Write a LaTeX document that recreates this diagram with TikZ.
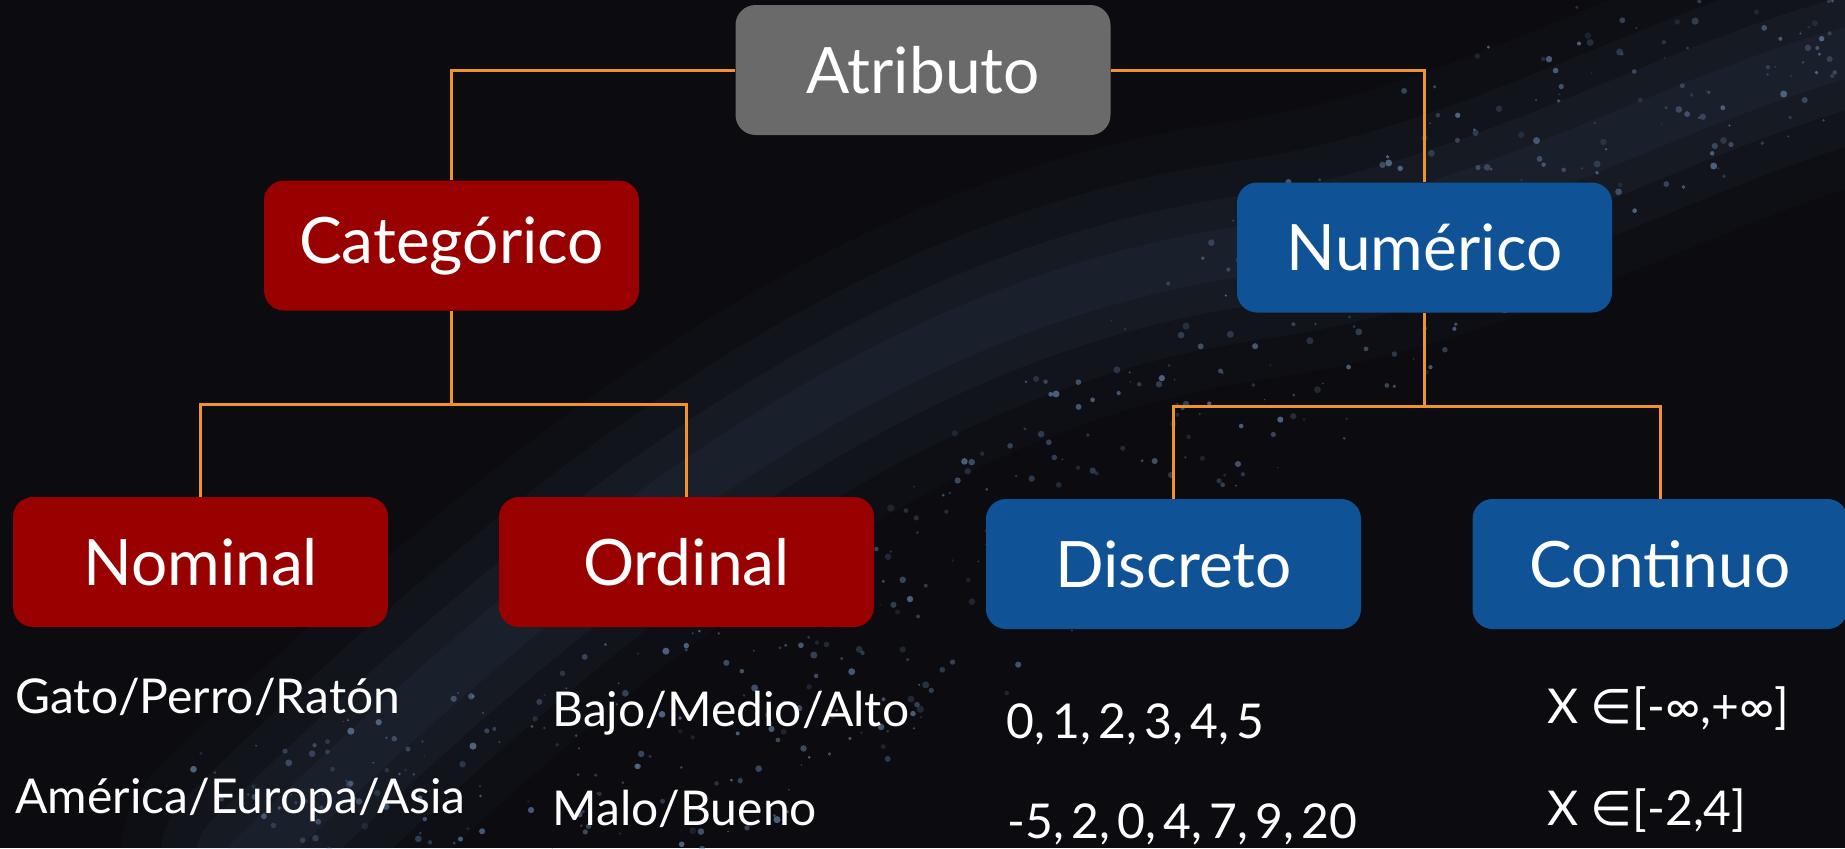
\documentclass[tikz,border=0pt]{standalone}
\usepackage{fontspec}
\setmainfont{Lato}
\newfontfamily\symf{DejaVu Sans}
\newfontfamily\numf[WordSpace=0.6]{Lato}
\definecolor{bgc}{HTML}{0B0B10}
\definecolor{boxgray}{HTML}{6A6A6A}
\definecolor{boxred}{HTML}{990000}
\definecolor{boxblue}{HTML}{0F5296}
\definecolor{conncol}{HTML}{F0922E}
\definecolor{dotcol}{HTML}{6F8FB8}
\begin{document}
\begin{tikzpicture}[x=0.5pt,y=-0.5pt,
  box/.style={rounded corners=10pt,minimum width=187.5pt,minimum height=65pt,
    text=white,font=\fontsize{32}{38}\selectfont,inner sep=0pt},
  graybox/.style={box,fill=boxgray},
  redbox/.style={box,fill=boxred},
  bluebox/.style={box,fill=boxblue},
  conn/.style={draw=conncol,line width=1.5pt},
  lbl/.style={anchor=base west,text=white,font=\fontsize{24}{28}\selectfont,inner sep=0pt},
  numlbl/.style={lbl,font=\numf\fontsize{24}{28}\selectfont}]
% background
\fill[bgc] (0,0) rectangle (1845,848);
\useasboundingbox (0,0) rectangle (1845,848);
\begin{scope}
\clip (0,0) rectangle (1845,848);
\foreach \w/\o in {260/0.03,180/0.04,110/0.05,50/0.06}{
  \draw[line width=\w*0.5pt,dotcol,opacity=\o,line cap=round]
    (250,860) .. controls (600,520) and (900,300) .. (1250,250) .. controls (1500,215) and (1700,80) .. (1900,40);
}
\pgfmathsetseed{11}
\foreach \i in {1,...,650}{
  \pgfmathsetmacro\t{rnd}
  \pgfmathsetmacro\off{(rnd-0.5)*260}
  \pgfmathsetmacro\px{250+1650*\t+0.5*\off}
  \pgfmathsetmacro\py{860-820*\t+90*sin(\t*300)+0.8*\off}
  \pgfmathsetmacro\rr{0.4+1.4*rnd}
  \pgfmathsetmacro\oo{0.15+0.5*rnd}
  \fill[dotcol,opacity=\oo] (\px,\py) circle (\rr pt);
}
\end{scope}
% nodes
\node[graybox] (attr) at (923,70) {Atributo};
\node[redbox] (cat) at (451.5,245.5) {Categórico};
\node[bluebox] (num) at (1424.5,247.5) {Numérico};
\node[redbox] (nom) at (200.5,562) {Nominal};
\node[redbox] (ord) at (686.5,562) {Ordinal};
\node[bluebox] (dis) at (1173.5,564) {Discreto};
\node[bluebox] (con) at (1660,564) {Continuo};
% junctions
\coordinate (cj) at (451.5,404);
\coordinate (nj) at (1424.5,406);
% connectors
\draw[conn] (attr.west) -| (cat.north);
\draw[conn] (attr.east) -| (num.north);
\draw[conn] (cat.south) -- (cj);
\draw[conn] (nom.north) |- (cj) -| (ord.north);
\draw[conn] (num.south) -- (nj);
\draw[conn] (dis.north) |- (nj) -| (con.north);
% labels
\node[lbl] (l1) at (15,713) {Gato/Perro/Ratón};
\node[lbl] (l2) at (15,813) {América/Europa/Asia};
\node[lbl] (l3) at (552,726) {Bajo/Medio/Alto};
\node[lbl] (l4) at (552,825) {Malo/Bueno};
\node[numlbl] (l5) at (1006,738) {0, 1, 2, 3, 4, 5};
\node[numlbl] (l6) at (1007,838) {-5, 2, 0, 4, 7, 9, 20};
\node[lbl] (l7) at (1547,723) {X {\symf ∈}[-∞,+∞]};
\node[lbl] (l8) at (1547,825) {X {\symf ∈}[-2,4]};
\end{tikzpicture}
\end{document}
